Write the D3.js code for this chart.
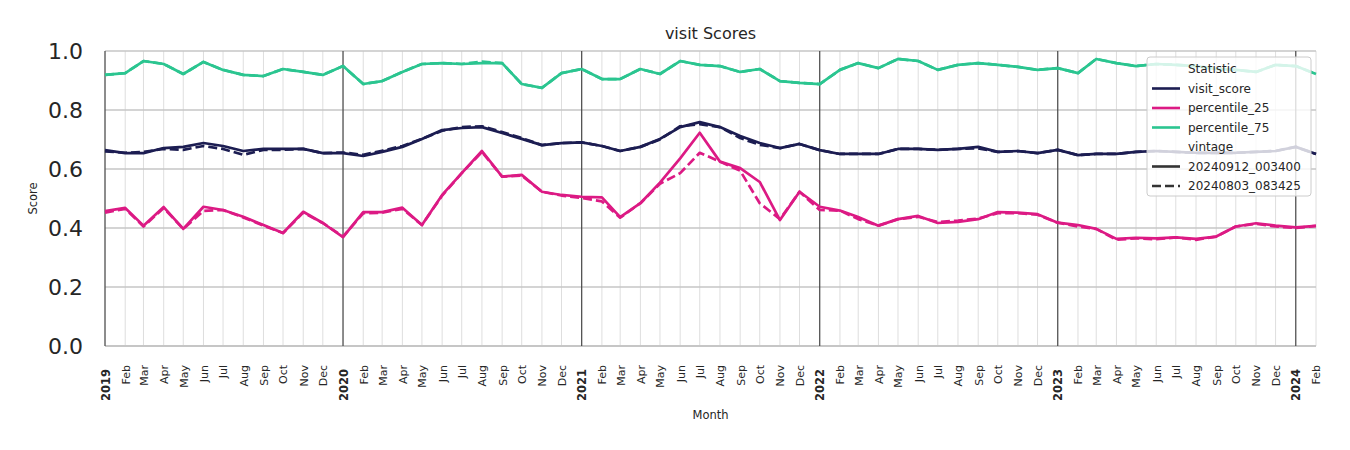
<!DOCTYPE html>
<html><head><meta charset="utf-8">
<script src="https://cdn.jsdelivr.net/npm/d3@7"></script>
<style>
body{margin:0;background:#fff;}
text{font-family:"DejaVu Sans",sans-serif;fill:#262626;}
</style></head>
<body><svg id="c" width="1350" height="450"></svg>
<script>
const startMonth = "2019-01-01";
const monthCount = 62;
const yTicks = [0.0, 0.2, 0.4, 0.6, 0.8, 1.0];
const statistics = ["visit_score", "percentile_25", "percentile_75"];
const vintages = ["20240912_003400", "20240803_083425"];

const visitScore_0912 = [
 0.664,0.654,0.654,0.671,0.675,0.688,0.678,0.661,0.668,0.668,0.668,0.654,
 0.654,0.644,0.658,0.675,0.702,0.732,0.739,0.742,0.722,0.702,0.681,0.688,
 0.690,0.678,0.661,0.675,0.702,0.742,0.759,0.742,0.712,0.688,0.671,0.685,
 0.664,0.651,0.651,0.651,0.668,0.668,0.665,0.668,0.675,0.658,0.661,0.654,
 0.665,0.647,0.651,0.651,0.658,0.661,0.658,0.655,0.655,0.655,0.658,0.661,
 0.675,0.651];
const visitScore_0803 = [
 0.660,0.655,0.658,0.668,0.665,0.678,0.668,0.648,0.665,0.665,0.668,0.654,
 0.656,0.648,0.662,0.678,0.702,0.730,0.742,0.745,0.725,0.705,0.681,0.688,
 0.690,0.678,0.661,0.675,0.700,0.745,0.752,0.742,0.705,0.682,0.671,0.685,
 0.664,0.651,0.651,0.651,0.668,0.668,0.665,0.668,0.670,0.658,0.661,0.654,
 0.665,0.647,0.651,0.651,0.658,0.661,0.658,0.655,0.655,0.655,0.658,0.661,
 0.675,0.651];
const p25_0912 = [
 0.457,0.468,0.408,0.471,0.397,0.472,0.461,0.438,0.410,0.383,0.455,0.417,
 0.369,0.454,0.454,0.469,0.410,0.512,0.586,0.661,0.574,0.580,0.523,0.512,
 0.506,0.504,0.437,0.484,0.554,0.636,0.723,0.625,0.603,0.556,0.427,0.523,
 0.472,0.459,0.437,0.408,0.430,0.441,0.417,0.421,0.430,0.454,0.452,0.447,
 0.418,0.410,0.397,0.363,0.367,0.365,0.368,0.363,0.371,0.405,0.416,0.408,
 0.402,0.407];
const p25_0803 = [
 0.452,0.465,0.405,0.468,0.397,0.458,0.461,0.436,0.408,0.383,0.452,0.417,
 0.371,0.450,0.452,0.465,0.410,0.510,0.586,0.658,0.574,0.578,0.523,0.510,
 0.502,0.490,0.435,0.484,0.550,0.586,0.655,0.625,0.594,0.484,0.430,0.523,
 0.461,0.459,0.430,0.408,0.430,0.438,0.420,0.425,0.432,0.450,0.450,0.445,
 0.418,0.405,0.397,0.360,0.365,0.362,0.368,0.360,0.371,0.405,0.414,0.405,
 0.400,0.407];
const p75_0912 = [
 0.919,0.925,0.966,0.956,0.922,0.963,0.936,0.919,0.915,0.939,0.929,0.919,
 0.949,0.888,0.898,0.929,0.956,0.959,0.956,0.959,0.959,0.888,0.875,0.925,
 0.939,0.905,0.905,0.939,0.922,0.966,0.953,0.949,0.929,0.939,0.898,0.892,
 0.888,0.936,0.959,0.942,0.973,0.966,0.936,0.953,0.959,0.953,0.946,0.936,
 0.942,0.925,0.973,0.959,0.949,0.956,0.953,0.949,0.939,0.936,0.929,0.953,
 0.949,0.922];
const p75_0803 = [
 0.919,0.925,0.966,0.956,0.922,0.963,0.936,0.919,0.915,0.939,0.929,0.919,
 0.949,0.888,0.898,0.929,0.956,0.959,0.956,0.964,0.959,0.888,0.875,0.925,
 0.939,0.905,0.905,0.939,0.922,0.966,0.953,0.949,0.929,0.939,0.898,0.892,
 0.888,0.936,0.959,0.942,0.973,0.966,0.936,0.953,0.959,0.953,0.946,0.936,
 0.942,0.925,0.973,0.959,0.949,0.956,0.953,0.949,0.939,0.936,0.929,0.953,
 0.949,0.922];

const colors = {visit_score:"#1c1d52", percentile_25:"#dc1a84", percentile_75:"#2bc590"};
const dashes = {"20240912_003400":null, "20240803_083425":"9,4"};

const months = d3.range(monthCount).map(i => d3.utcMonth.offset(new Date(startMonth + "T00:00:00Z"), i));
const seriesList = [
 {stat:"visit_score", vintage:vintages[0], values:visitScore_0912},
 {stat:"percentile_25", vintage:vintages[0], values:p25_0912},
 {stat:"percentile_75", vintage:vintages[0], values:p75_0912},
 {stat:"visit_score", vintage:vintages[1], values:visitScore_0803},
 {stat:"percentile_25", vintage:vintages[1], values:p25_0803},
 {stat:"percentile_75", vintage:vintages[1], values:p75_0803},
];

const svg = d3.select("#c");
const L=105, R=1316, T=51, B=346;
const x = d3.scaleUtc().domain([months[0], months[monthCount-1]]).range([L,R]);
const y = d3.scaleLinear().domain([0,1]).range([B,T]);

// month minor grid
svg.append("g").selectAll("line").data(months).join("line")
  .attr("x1",d=>x(d)).attr("x2",d=>x(d)).attr("y1",T).attr("y2",B)
  .attr("stroke","#dedede").attr("stroke-width",1);
// horizontal grid
svg.append("g").selectAll("line").data(yTicks).join("line")
  .attr("x1",L).attr("x2",R).attr("y1",d=>y(d)).attr("y2",d=>y(d))
  .attr("stroke","#c6c6c6").attr("stroke-width",d=>d===0?2.2:1.6);
// year lines
const years = months.filter(d=>d.getUTCMonth()===0);
svg.append("g").selectAll("line").data(years).join("line")
  .attr("x1",d=>x(d)).attr("x2",d=>x(d)).attr("y1",T).attr("y2",B)
  .attr("stroke","#3c3c3c").attr("stroke-width",1.1);

// y axis labels
const yAxis = d3.axisLeft(y).tickValues(yTicks).tickFormat(d3.format(".1f")).tickSize(0).tickPadding(0);
const gy = svg.append("g").attr("transform",`translate(${L-22},0)`).call(yAxis);
gy.select(".domain").remove();
gy.selectAll("text").attr("font-size",22).attr("fill","#262626").attr("font-family","DejaVu Sans").attr("dy","0.36em");

// x axis labels
const xAxis = d3.axisBottom(x).tickValues(months).tickSize(0)
  .tickFormat(d => d.getUTCMonth()===0 ? d3.utcFormat("%Y")(d) : d3.utcFormat("%b")(d));
const gx = svg.append("g").attr("transform",`translate(0,${B})`).call(xAxis);
gx.select(".domain").remove();
gx.selectAll(".tick text")
  .attr("font-family","DejaVu Sans")
  .attr("font-size",d=>d.getUTCMonth()===0?11.5:11)
  .attr("font-weight",d=>d.getUTCMonth()===0?"bold":"normal")
  .attr("fill","#262626")
  .attr("text-anchor","end")
  .attr("transform",d=>`translate(0,${d.getUTCMonth()===0?23:19}) rotate(-90)`)
  .attr("x",0).attr("y",0).attr("dy","0.35em");

// lines
const line = d3.line().x((d,i)=>x(months[i])).y(d=>y(d));
svg.append("g").selectAll("path").data(seriesList).join("path")
  .attr("d",d=>line(d.values))
  .attr("fill","none")
  .attr("stroke",d=>colors[d.stat])
  .attr("stroke-width",2.7)
  .attr("stroke-linejoin","round")
  .attr("stroke-dasharray",d=>dashes[d.vintage]);

// titles
svg.append("text").attr("x",(L+R)/2).attr("y",39).attr("text-anchor","middle")
  .attr("font-size",16).text("visit Scores");
svg.append("text").attr("x",(L+R)/2).attr("y",419).attr("text-anchor","middle")
  .attr("font-size",11.5).text("Month");
svg.append("text").attr("transform",`translate(37,${(T+B)/2}) rotate(-90)`).attr("text-anchor","middle")
  .attr("font-size",11.5).text("Score");

// legend
const lg = svg.append("g").attr("transform","translate(1147,57)");
lg.append("rect").attr("width",164).attr("height",139).attr("rx",3)
  .attr("fill","rgba(255,255,255,0.8)").attr("stroke","#cccccc").attr("stroke-width",1);
const entries = [
 {label:"Statistic", color:null},
 ...statistics.map(s=>({label:s,color:colors[s],dash:null})),
 {label:"vintage", color:null},
 ...vintages.map(v=>({label:v,color:"#333333",dash:dashes[v]}))
];
entries.forEach((e,i)=>{
  const yy = 12 + i*19.5;
  if(e.color){
    lg.append("line").attr("x1",5).attr("x2",33).attr("y1",yy).attr("y2",yy)
      .attr("stroke",e.color).attr("stroke-width",2.6).attr("stroke-dasharray",e.dash);
  }
  lg.append("text").attr("x",41).attr("y",yy).attr("dy","0.35em").attr("font-size",12).text(e.label);
});
</script></body></html>
